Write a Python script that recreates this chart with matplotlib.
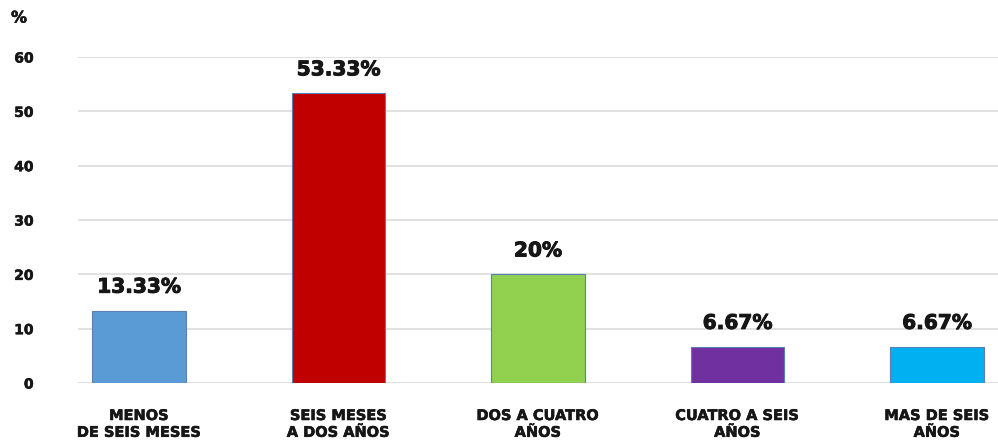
import matplotlib
matplotlib.use("Agg")
import matplotlib.pyplot as plt
import matplotlib.patheffects as pe

categories = ["MENOS\nDE SEIS MESES", "SEIS MESES\nA DOS AÑOS", "DOS A CUATRO\nAÑOS",
              "CUATRO A SEIS\nAÑOS", "MAS DE SEIS\nAÑOS"]
values = [13.33, 53.33, 20, 6.67, 6.67]
value_labels = ["13.33%", "53.33%", "20%", "6.67%", "6.67%"]
colors = ["#5B9BD5", "#C00000", "#92D050", "#7030A0", "#00B0F0"]
yticks = [0, 10, 20, 30, 40, 50, 60]

plt.rcParams['font.family'] = ['DejaVu Sans']

txtc = "#161616"
heavy = [pe.withStroke(linewidth=0.7, foreground=txtc)]

fig = plt.figure(figsize=(9.98, 4.43), dpi=100)
ax = fig.add_axes([78/998, 1 - 383/443, 1 - 78/998, 326/443])

x = list(range(len(categories)))
ax.bar(x, values, width=0.47, color=colors, edgecolor="#5a7fb5", linewidth=0.8, zorder=3)

for xi, v, lab in zip(x, values, value_labels):
    ax.annotate(lab, (xi, v), xytext=(0, 10), textcoords="offset points",
                ha="center", va="bottom", fontsize=14.5, fontweight="bold", color=txtc,
                path_effects=heavy)

ax.set_ylim(0, 60)
ax.set_xlim(-0.306, 4.306)
ax.set_yticks(yticks)
ax.set_yticklabels([str(t) for t in yticks], fontsize=10, fontweight="bold", color=txtc)
ax.set_xticks(x)
ax.set_xticklabels(categories, fontsize=10.5, fontweight="bold", color=txtc, linespacing=1.15)
for t in ax.get_xticklabels() + ax.get_yticklabels():
    t.set_path_effects([pe.withStroke(linewidth=0.4, foreground=txtc)])
ax.tick_params(axis="y", length=0, pad=32)
ax.tick_params(axis="x", length=0, pad=18)
ax.yaxis.grid(True, color="#dcdcdc", linewidth=1.2, zorder=0)
ax.set_axisbelow(True)
for s in ax.spines.values():
    s.set_visible(False)

fig.text(11/998, 1 - 18/443, "%", fontsize=11.5, fontweight="bold", color=txtc, va="center", ha="left",
         path_effects=[pe.withStroke(linewidth=0.4, foreground=txtc)])

fig.savefig("out.png", dpi=100)
